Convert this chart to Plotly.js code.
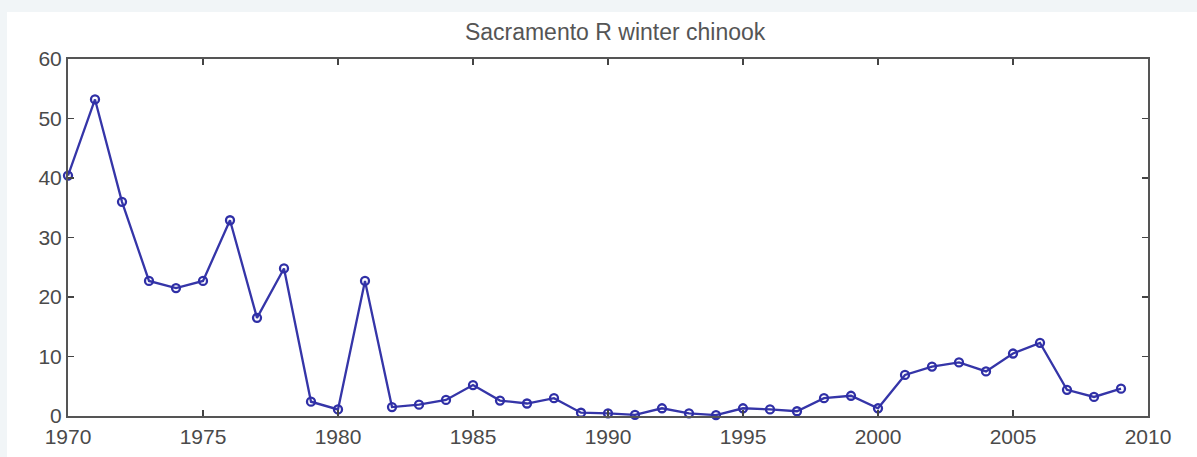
<!DOCTYPE html>
<html>
<head>
<meta charset="utf-8">
<script src="https://cdn.plot.ly/plotly-3.0.1.min.js"></script>
<style>
  html, body { margin:0; padding:0; background:#f1f5f7; width:1197px; height:457px; overflow:hidden; }
  #chart { position:absolute; left:7px; top:12px; width:1190px; height:445px; background:#ffffff; }
</style>
</head>
<body>
<div id="chart"></div>
<script>
const years = [1970,1971,1972,1973,1974,1975,1976,1977,1978,1979,
               1980,1981,1982,1983,1984,1985,1986,1987,1988,1989,
               1990,1991,1992,1993,1994,1995,1996,1997,1998,1999,
               2000,2001,2002,2003,2004,2005,2006,2007,2008,2009];
const values = [40.4,53.2,36.0,22.7,21.5,22.7,32.9,16.5,24.8,2.4,
                1.1,22.7,1.5,1.9,2.7,5.2,2.6,2.1,3.0,0.55,
                0.45,0.2,1.3,0.45,0.15,1.3,1.1,0.8,3.0,3.4,
                1.3,6.9,8.3,9.0,7.5,10.5,12.3,4.4,3.2,4.6];
const xTicks = [1970,1975,1980,1985,1990,1995,2000,2005,2010];
const yTicks = [0,10,20,30,40,50,60];
const titleText = "Sacramento R winter chinook";

const trace = {
  x: years, y: values, type: "scatter", mode: "lines+markers",
  cliponaxis: false,
  line: {color: "#3535a8", width: 2.3},
  marker: {symbol: "circle-open", size: 8, color: "#2f2fa6", line: {width: 2.3, color: "#2f2fa6"}},
  hoverinfo: "x+y", showlegend: false
};

const axisCommon = {
  showline: true, linecolor: "#555555", linewidth: 2, mirror: "ticks",
  ticks: "inside", ticklen: 6, tickwidth: 1.5, tickcolor: "#444444",
  showgrid: false, zeroline: false,
  tickfont: {family: "Liberation Sans, Arial, sans-serif", size: 21, color: "#4a4a4a"}
};

const layout = {
  width: 1190, height: 445,
  margin: {l: 61, r: 49, t: 47, b: 41},
  paper_bgcolor: "#ffffff", plot_bgcolor: "#ffffff",
  title: {text: titleText, x: 0.511, xanchor: "center", y: 0.955, yanchor: "middle",
          font: {family: "Liberation Sans, Arial, sans-serif", size: 23, color: "#555555"}},
  xaxis: Object.assign({}, axisCommon, {range: [1970, 2010], tickvals: xTicks, ticktext: xTicks.map(String), ticklabelstandoff: 1}),
  yaxis: Object.assign({}, axisCommon, {range: [0, 60], tickvals: yTicks, ticktext: yTicks.map(String), ticklabelstandoff: 0})
};

Plotly.newPlot("chart", [trace], layout, {displayModeBar: false, staticPlot: true});
</script>
</body>
</html>
